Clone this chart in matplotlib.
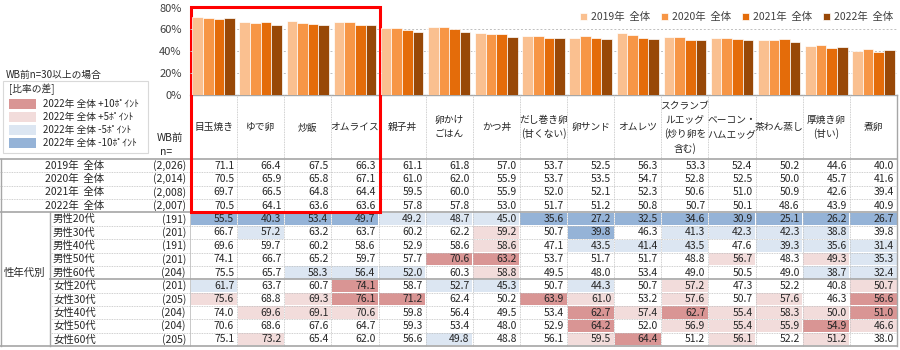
import numpy as np
import matplotlib
matplotlib.use('Agg')
import matplotlib.pyplot as plt
from matplotlib.patches import Rectangle

plt.rcParams['font.family'] = ['Noto Sans CJK JP', 'DejaVu Sans']

# データ
categories = ['目玉焼き', 'ゆで卵', '炒飯', 'オムライス', '親子丼', '卵かけ\nごはん', 'かつ丼',
              'だし巻き卵\n(甘くない)', '卵サンド', 'オムレツ', 'スクランブ\nルエッグ\n(炒り卵を\n含む)',
              'ベーコン・\nハムエッグ', '茶わん蒸し', '厚焼き卵\n(甘い)', '煮卵']
year_labels = ['2019年  全体', '2020年  全体', '2021年  全体', '2022年  全体']
year_n = ['(2,026)', '(2,014)', '(2,008)', '(2,007)']
y2019 = [71.1, 66.4, 67.5, 66.3, 61.1, 61.8, 57.0, 53.7, 52.5, 56.3, 53.3, 52.4, 50.2, 44.6, 40.0]
y2020 = [70.5, 65.9, 65.8, 67.1, 61.0, 62.0, 55.9, 53.7, 53.5, 54.7, 52.8, 52.5, 50.0, 45.7, 41.6]
y2021 = [69.7, 66.5, 64.8, 64.4, 59.5, 60.0, 55.9, 52.0, 52.1, 52.3, 50.6, 51.0, 50.9, 42.6, 39.4]
y2022 = [70.5, 64.1, 63.6, 63.6, 57.8, 57.8, 53.0, 51.7, 51.2, 50.8, 50.7, 50.1, 48.6, 43.9, 40.9]

group_labels = ['男性20代', '男性30代', '男性40代', '男性50代', '男性60代',
                '女性20代', '女性30代', '女性40代', '女性50代', '女性60代']
group_n = ['(191)', '(201)', '(191)', '(201)', '(204)', '(201)', '(205)', '(204)', '(204)', '(205)']
m20 = [55.5, 40.3, 53.4, 49.7, 49.2, 48.7, 45.0, 35.6, 27.2, 32.5, 34.6, 30.9, 25.1, 26.2, 26.7]
m30 = [66.7, 57.2, 63.2, 63.7, 60.2, 62.2, 59.2, 50.7, 39.8, 46.3, 41.3, 42.3, 42.3, 38.8, 39.8]
m40 = [69.6, 59.7, 60.2, 58.6, 52.9, 58.6, 58.6, 47.1, 43.5, 41.4, 43.5, 47.6, 39.3, 35.6, 31.4]
m50 = [74.1, 66.7, 65.2, 59.7, 57.7, 70.6, 63.2, 53.7, 51.7, 51.7, 48.8, 56.7, 48.3, 49.3, 35.3]
m60 = [75.5, 65.7, 58.3, 56.4, 52.0, 60.3, 58.8, 49.5, 48.0, 53.4, 49.0, 50.5, 49.0, 38.7, 32.4]
f20 = [61.7, 63.7, 60.7, 74.1, 58.7, 52.7, 45.3, 50.7, 44.3, 50.7, 57.2, 47.3, 52.2, 40.8, 50.7]
f30 = [75.6, 68.8, 69.3, 76.1, 71.2, 62.4, 50.2, 63.9, 61.0, 53.2, 57.6, 50.7, 57.6, 46.3, 56.6]
f40 = [74.0, 69.6, 69.1, 70.6, 59.8, 56.4, 49.5, 53.4, 62.7, 57.4, 62.7, 55.4, 58.3, 50.0, 51.0]
f50 = [70.6, 68.6, 67.6, 64.7, 59.3, 53.4, 48.0, 52.9, 64.2, 52.0, 56.9, 55.4, 55.9, 54.9, 46.6]
f60 = [75.1, 73.2, 65.4, 62.0, 56.6, 49.8, 48.8, 56.1, 59.5, 64.4, 51.2, 56.1, 52.2, 51.2, 38.0]

years = [y2019, y2020, y2021, y2022]
groups = [m20, m30, m40, m50, m60, f20, f30, f40, f50, f60]
bar_colors = ['#FAC090', '#F79646', '#E46C0A', '#984807']
c_p10, c_p5, c_m5, c_m10 = '#D99594', '#F2DCDB', '#DCE6F2', '#95B3D7'
txt = '#262626'

W, H = 900, 350
fig = plt.figure(figsize=(9, 3.5), dpi=100)

# 表用の座標系(ピクセル)
tab = fig.add_axes([0, 0, 1, 1])
tab.set_xlim(0, W)
tab.set_ylim(H, 0)
tab.axis('off')

x0, x1 = 190, 897
ncol = len(categories)
cw = (x1 - x0) / ncol
top_bar, base = 7.5, 95
tbl_top, tbl_bot = 159, 346
nrows = 14
rh = (tbl_bot - tbl_top) / nrows

# 棒グラフ
ax = fig.add_axes([x0 / W, 1 - base / H, (x1 - x0) / W, (base - top_bar) / H])
xs = np.arange(ncol)
bw = 0.225
for k, (vals, c, lab) in enumerate(zip(years, bar_colors, year_labels)):
    ax.bar(xs + (k - 1.5) * bw, vals, bw, color=c, edgecolor='white', linewidth=0.5, label=lab, zorder=3)
ax.set_xlim(-0.5, ncol - 0.5)
ax.set_ylim(0, 80)
ax.set_yticks([0, 20, 40, 60, 80])
ax.set_yticklabels(['0%', '20%', '40%', '60%', '80%'], fontsize=8, color='#404040')
ax.tick_params(axis='y', length=0, pad=6)
ax.set_xticks([])
for s in ax.spines.values():
    s.set_visible(False)
ax.yaxis.grid(True, linestyle=(0, (2, 2)), color='#BFBFBF', linewidth=0.7, zorder=0)
ax.set_facecolor('none')
leg = ax.legend(loc='center right', bbox_to_anchor=(1.0, 1 - (17 - top_bar) / (base - top_bar)),
                ncol=4, fontsize=7.5, frameon=False, handlelength=0.7, handleheight=0.7,
                handletextpad=0.3, columnspacing=1.1, borderaxespad=0)
for t in leg.get_texts():
    t.set_color('#404040')

# カテゴリ見出し欄
tab.plot([x0, x1], [base, base], color='#A6A6A6', lw=1.0)
tab.plot([x1, x1], [base, tbl_bot], color='#A6A6A6', lw=1.0)
for i, cat in enumerate(categories):
    tab.text(x0 + cw * (i + 0.5), 127, cat, ha='center', va='center', fontsize=7,
             color=txt, linespacing=1.45)
tab.text(170, 138, 'WB前', ha='center', va='center', fontsize=7.5, color=txt)
tab.text(166, 152, 'n=', ha='center', va='center', fontsize=7.5, color=txt)

# 列の区切り線(点線)
for i in range(1, ncol):
    xv = x0 + cw * i
    tab.plot([xv, xv], [base, tbl_bot], color='#BFBFBF', lw=0.6, linestyle=(0, (1, 1)))
tab.plot([x0, x0], [base, tbl_bot], color='#BFBFBF', lw=0.6)


def cell_color(v, ref):
    d = round(v - ref, 1)
    if d >= 10:
        return c_p10
    if d > 5:
        return c_p5
    if d <= -10:
        return c_m10
    if d < -5:
        return c_m5
    return None


# 全体の行
for r, (lab, n, vals) in enumerate(zip(year_labels, year_n, years)):
    yc = tbl_top + rh * (r + 0.5)
    tab.text(75, yc, lab, ha='center', va='center', fontsize=7.5, color=txt)
    tab.text(186, yc, n, ha='right', va='center', fontsize=7.5, color=txt)
    for i, v in enumerate(vals):
        tab.text(x0 + cw * (i + 1) - 3, yc, f'{v:.1f}', ha='right', va='center', fontsize=7.5, color=txt)

# 性年代別の行
for g, (lab, n, vals) in enumerate(zip(group_labels, group_n, groups)):
    r = g + 4
    yt = tbl_top + rh * r
    yc = yt + rh / 2
    tab.text(53, yc, lab, ha='left', va='center', fontsize=7.5, color=txt)
    tab.text(186, yc, n, ha='right', va='center', fontsize=7.5, color=txt)
    for i, v in enumerate(vals):
        c = cell_color(v, y2022[i])
        if c:
            tab.add_patch(Rectangle((x0 + cw * i + 0.5, yt + 0.5), cw - 1, rh - 1, color=c, lw=0, zorder=1))
        tab.text(x0 + cw * (i + 1) - 3, yc, f'{v:.1f}', ha='right', va='center', fontsize=7.5,
                 color=txt, zorder=3)
tab.text(25, 273, '性年代別', ha='center', va='center', fontsize=7.5, color=txt)

# 行の区切り線
for r in range(1, nrows):
    yl = tbl_top + rh * r
    xs_start = 0 if r <= 4 else 50
    if r in (4, 9):
        tab.plot([xs_start, x1], [yl, yl], color='#A6A6A6', lw=1.2, zorder=4)
    else:
        tab.plot([xs_start, x1], [yl, yl], color='#BFBFBF', lw=0.6, linestyle=(0, (1, 1)), zorder=4)
tab.plot([0, x1], [tbl_top, tbl_top], color='#A6A6A6', lw=1.2, zorder=4)
tab.plot([0, x1], [tbl_bot, tbl_bot], color='#A6A6A6', lw=1.2, zorder=4)
tab.plot([1, 1], [tbl_top, tbl_bot], color='#A6A6A6', lw=1.0)
tab.plot([50, 50], [tbl_top + rh * 4, tbl_bot], color='#A6A6A6', lw=1.0)

# 比率の差の凡例
tab.text(6, 75, 'WB前n=30以上の場合', ha='left', va='center', fontsize=7, color=txt)
tab.add_patch(Rectangle((3, 81), 145, 72, facecolor='white', edgecolor='#D9D9D9', lw=0.8))
tab.text(9, 89, '[比率の差]', ha='left', va='center', fontsize=7, color=txt)
legend_rows = [(c_p10, '2022年 全体 +10ﾎﾟｲﾝﾄ'), (c_p5, '2022年 全体 +5ﾎﾟｲﾝﾄ'),
               (c_m5, '2022年 全体 -5ﾎﾟｲﾝﾄ'), (c_m10, '2022年 全体 -10ﾎﾟｲﾝﾄ')]
for j, (c, lab) in enumerate(legend_rows):
    yc = 104 + 13 * j
    tab.add_patch(Rectangle((9, yc - 5), 27, 10, color=c, lw=0))
    tab.text(43, yc, lab, ha='left', va='center', fontsize=7, color=txt)

# 赤枠
tab.add_patch(Rectangle((x0 + 1, 7), cw * 4, 205, fill=False, edgecolor='#FF0000', lw=2.2, zorder=6))

fig.savefig('out.png', dpi=100)
